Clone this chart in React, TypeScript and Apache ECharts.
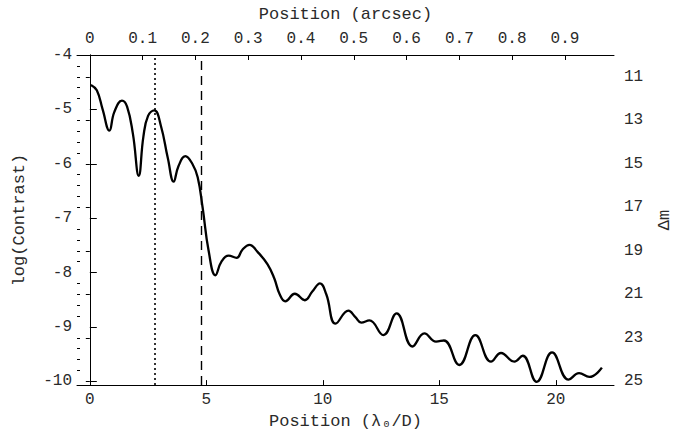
import React, { useEffect, useRef } from "react";
import * as echarts from "echarts";

// Contrast profile: position in λ0/D and log10 of the contrast
const positionLD = [
  0.05, 0.3, 0.55, 0.84, 1.05, 1.38, 1.6, 1.85, 2.1, 2.3, 2.5, 2.77, 3.05, 3.35, 3.6, 3.8, 4.1, 4.4, 4.63,
  4.84, 5.1, 5.39, 5.65, 5.96, 6.3, 6.55, 6.85, 7.2, 7.63, 7.92, 8.15, 8.39, 8.8, 9.23, 9.55, 9.88, 10.15,
  10.55, 11.1, 11.4, 11.65, 12.0, 12.6, 13.17, 13.85, 14.36, 14.86, 15.2, 15.86, 16.55, 17.22, 17.65,
  18.22, 18.58, 19.18, 19.84, 20.55, 21.0, 21.44, 21.98,
];
const logContrast = [
  -4.55, -4.65, -5.0, -5.39, -5.05, -4.84, -4.95, -5.45, -6.22, -5.5, -5.12, -5.02, -5.3, -5.9, -6.33,
  -6.05, -5.86, -6.0, -6.25, -6.8, -7.6, -8.05, -7.8, -7.69, -7.73, -7.58, -7.49, -7.62, -7.85, -8.11,
  -8.4, -8.53, -8.39, -8.51, -8.35, -8.2, -8.4, -8.94, -8.7, -8.82, -8.92, -8.88, -9.15, -8.75, -9.36,
  -9.12, -9.27, -9.25, -9.7, -9.15, -9.64, -9.48, -9.64, -9.53, -10.01, -9.47, -9.97, -9.85, -9.92, -9.75,
];

// Reference positions marked with vertical lines (λ0/D)
const dottedAt = 2.8;
const dashedAt = 4.8;

// Tick labels
const bottomTicks = [0, 5, 10, 15, 20];
const topTicks = [0, 0.1, 0.2, 0.3, 0.4, 0.5, 0.6, 0.7, 0.8, 0.9];
const leftTicks = [-10, -9, -8, -7, -6, -5, -4];
const rightTicks = [11, 13, 15, 17, 19, 21, 23, 25];

// Axis extents
const X_MIN = -0.55;
const X_MAX = 22.5;
const Y_MIN = -10.07;
const Y_MAX = -4;
const LD_PER_ARCSEC = 22.66; // λ0/D per arcsecond

const FONT = "'Liberation Mono', 'DejaVu Sans Mono', monospace";
const TEXT = "#2a2a2a";

export default function App() {
  const ref = useRef<HTMLDivElement>(null);

  useEffect(() => {
    if (!ref.current) return;
    const chart = echarts.init(ref.current, undefined, { renderer: "svg" });

    const minorLeft: number[] = [];
    for (let i = 0; i <= 30; i++) {
      const v = Math.round((-10 + i * 0.2) * 10) / 10;
      if (Math.abs(v - Math.round(v)) > 1e-6) minorLeft.push(v);
    }

    const line = { show: true, lineStyle: { color: "#000", width: 1 } };
    const label = { color: TEXT, fontFamily: FONT, fontSize: 16 };
    const nameStyle = { color: TEXT, fontFamily: FONT, fontSize: 17 };

    chart.setOption({
      animation: false,
      backgroundColor: "#fff",
      grid: { left: 77, right: 66, top: 55, bottom: 48, containLabel: false },
      xAxis: [
        {
          type: "value",
          position: "bottom",
          min: X_MIN,
          max: X_MAX,
          name: "Position (λ\u2080/D)",
          nameLocation: "middle",
          nameGap: 27,
          nameTextStyle: nameStyle,
          axisLine: line,
          axisTick: { show: true, inside: true, length: 5, customValues: bottomTicks, lineStyle: { color: "#000" } },
          axisLabel: { ...label, margin: 7, customValues: bottomTicks },
          splitLine: { show: false },
        },
        {
          type: "value",
          position: "top",
          min: X_MIN / LD_PER_ARCSEC,
          max: X_MAX / LD_PER_ARCSEC,
          name: "Position (arcsec)",
          nameLocation: "middle",
          nameGap: 32,
          nameTextStyle: nameStyle,
          axisLine: line,
          axisTick: { show: true, inside: true, length: 5, customValues: topTicks, lineStyle: { color: "#000" } },
          axisLabel: { ...label, margin: 8, customValues: topTicks, formatter: (v: number) => String(Math.round(v * 10) / 10) },
          splitLine: { show: false },
        },
      ],
      yAxis: [
        {
          type: "value",
          position: "left",
          min: Y_MIN,
          max: Y_MAX,
          name: "log(Contrast)",
          nameLocation: "middle",
          nameRotate: 90,
          nameGap: 49,
          nameTextStyle: nameStyle,
          axisLine: line,
          axisTick: { show: true, inside: true, length: 7, customValues: leftTicks, lineStyle: { color: "#000" } },
          axisLabel: { ...label, margin: 5, customValues: leftTicks },
          splitLine: { show: false },
        },
        {
          type: "value",
          position: "right",
          inverse: true,
          min: -2.5 * Y_MAX,
          max: -2.5 * Y_MIN,
          name: "Δm",
          nameLocation: "middle",
          nameRotate: 90,
          nameGap: 42,
          nameTextStyle: nameStyle,
          axisLine: line,
          axisTick: { show: true, inside: true, length: 4, customValues: rightTicks, lineStyle: { color: "#000" } },
          axisLabel: { ...label, margin: 10, customValues: rightTicks },
          splitLine: { show: false },
        },
        {
          // minor ticks of the log(Contrast) axis
          type: "value",
          position: "left",
          offset: 0,
          min: Y_MIN,
          max: Y_MAX,
          axisLine: { show: false },
          axisTick: { show: true, inside: true, length: 3, customValues: minorLeft, lineStyle: { color: "#000" } },
          axisLabel: { show: false },
          splitLine: { show: false },
        },
      ],
      series: [
        {
          type: "line",
          xAxisIndex: 0,
          yAxisIndex: 0,
          data: positionLD.map((x, i) => [x, logContrast[i]]),
          smooth: 0.45,
          showSymbol: false,
          symbol: "none",
          lineStyle: { color: "#000", width: 2.3 },
          markLine: {
            silent: true,
            symbol: "none",
            label: { show: false },
            data: [
              { xAxis: dottedAt, lineStyle: { type: [2, 3], color: "#000", width: 1.6 } },
              { xAxis: dashedAt, lineStyle: { type: [9, 6], color: "#000", width: 1.4 } },
            ],
          },
        },
      ],
    });

    return () => chart.dispose();
  }, []);

  return <div ref={ref} style={{ width: 681, height: 435, position: "absolute", left: 0, top: 0 }} />;
}
